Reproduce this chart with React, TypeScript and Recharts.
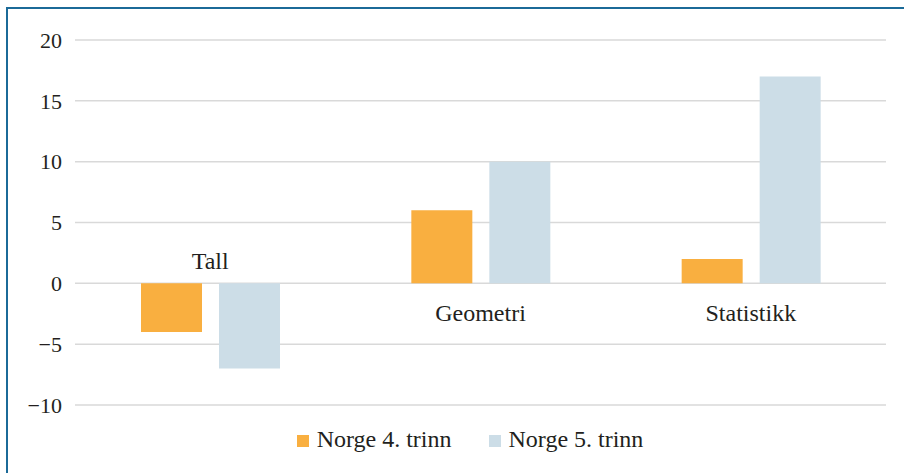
import { BarChart, Bar, XAxis, YAxis, CartesianGrid, Legend } from 'recharts';

const categories = ['Tall', 'Geometri', 'Statistikk'];
const grade4 = [-4, 6, 2];
const grade5 = [-7, 10, 17];
const yTicks = [-10, -5, 0, 5, 10, 15, 20];

const data = categories.map((name, i) => ({ name, g4: grade4[i], g5: grade5[i] }));

const Y_MIN = -10;
const Y_MAX = 20;
const PLOT_BOTTOM = 406;
const PLOT_HEIGHT = 366;
const FONT = '"Liberation Serif", "Times New Roman", serif';
const TEXT = '#231f20';

// category labels sit on the zero line: above it for negative groups, below otherwise
function CategoryTick(props: any) {
  const { x, payload, index } = props;
  const zeroY = PLOT_BOTTOM - ((0 - Y_MIN) / (Y_MAX - Y_MIN)) * PLOT_HEIGHT;
  const negative = grade4[index] < 0 && grade5[index] < 0;
  return (
    <text
      x={x}
      y={negative ? zeroY - 15 : zeroY + 37}
      textAnchor="middle"
      fontFamily={FONT}
      fontSize={24}
      fill={TEXT}
    >
      {payload.value}
    </text>
  );
}

export default function App() {
  return (
    <div style={{ position: 'absolute', left: 0, top: 0, width: 904, height: 473, background: '#fff', overflow: 'hidden' }}>
      <div
        style={{
          position: 'absolute',
          left: 6,
          top: 7,
          width: 920,
          height: 490,
          border: '2px solid #1b6a98',
          boxSizing: 'border-box',
        }}
      />
      <BarChart
        width={904}
        height={473}
        data={data}
        margin={{ top: 40, right: 18, left: 0, bottom: 20 }}
        barSize={61}
        barGap={17}
      >
        <CartesianGrid vertical={false} stroke="#d9d9d9" strokeWidth={1.5} />
        <XAxis
          dataKey="name"
          axisLine={false}
          tickLine={false}
          tick={<CategoryTick />}
          interval={0}
          height={21}
        />
        <YAxis
          domain={[Y_MIN, Y_MAX]}
          ticks={yTicks}
          width={75}
          axisLine={false}
          tickLine={false}
          tickSize={0}
          tickMargin={13}
          interval={0}
          tickFormatter={(v: number) => String(v).replace('-', '\u2212')}
          tick={{ fontFamily: FONT, fontSize: 22, fill: TEXT }}
        />
        <Legend
          verticalAlign="bottom"
          iconType="square"
          iconSize={12}
          wrapperStyle={{ fontFamily: FONT, fontSize: 24, color: TEXT, left: 32 }}
          formatter={(value: string, _entry: any, index: number) => (
            <span
              style={{
                color: TEXT,
                fontFamily: FONT,
                fontSize: 24,
                marginLeft: 4,
                marginRight: index === 0 ? 27 : 0,
              }}
            >
              {value}
            </span>
          )}
        />
        <Bar dataKey="g4" name="Norge 4. trinn" fill="#f9af40" isAnimationActive={false} />
        <Bar dataKey="g5" name="Norge 5. trinn" fill="#ccdde7" isAnimationActive={false} />
      </BarChart>
    </div>
  );
}
